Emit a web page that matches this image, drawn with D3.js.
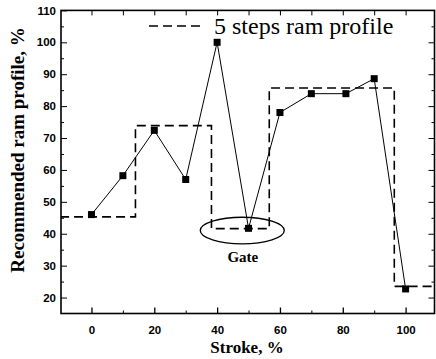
<!DOCTYPE html>
<html><head><meta charset="utf-8">
<script src="https://cdn.jsdelivr.net/npm/d3@7"></script>
<style>body{margin:0;background:#fff}svg{display:block}</style>
</head><body>
<script>
const strokeX = [0, 10, 20, 30, 40, 50, 60, 70, 81, 90, 100];
const ramY = [46, 58.2, 72.4, 57, 100, 41.7, 78, 83.9, 83.9, 88.6, 22.7];
const stepX = [-10, 14, 14, 38.2, 38.2, 56.6, 56.6, 96.4, 96.4, 110];
const stepY = [45.3, 45.3, 73.9, 73.9, 41.6, 41.6, 85.7, 85.7, 23.5, 23.5];
const xTicks = [0, 20, 40, 60, 80, 100];
const yTicks = [20, 30, 40, 50, 60, 70, 80, 90, 100, 110];
const legendLabel = "5 steps ram profile";
const xTitle = "Stroke, %";
const yTitle = "Recommended ram profile, %";
const gateLabel = "Gate";

const W = 436, H = 359;
const svg = d3.select("body").append("svg").attr("width", W).attr("height", H);
const x = d3.scaleLinear().domain([-9.7, 109.2]).range([61, 434.5]);
const y = d3.scaleLinear().domain([15, 110]).range([313.5, 10.4]);

const clip = svg.append("clipPath").attr("id","c").append("rect")
  .attr("x", x.range()[0]).attr("y", y.range()[1])
  .attr("width", x.range()[1]-x.range()[0]).attr("height", y.range()[0]-y.range()[1]);

// step profile
const stepData = stepX.map((d,i)=>[d, stepY[i]]);
svg.append("path").attr("clip-path","url(#c)")
  .attr("d", d3.line().x(d=>x(d[0])).y(d=>y(d[1]))(stepData))
  .attr("fill","none").attr("stroke","#000").attr("stroke-width",1.6)
  .attr("stroke-dasharray","9,5");

// data line
const pts = strokeX.map((d,i)=>[d, ramY[i]]);
svg.append("path").attr("d", d3.line().x(d=>x(d[0])).y(d=>y(d[1]))(pts))
  .attr("fill","none").attr("stroke","#000").attr("stroke-width",1);
svg.selectAll("rect.pt").data(pts).join("rect").attr("class","pt")
  .attr("x", d=>x(d[0])-3.5).attr("y", d=>y(d[1])-3.5)
  .attr("width",7).attr("height",7).attr("fill","#000");

// gate ellipse
svg.append("ellipse").attr("cx", x(48)).attr("cy", y(41.0))
  .attr("rx", 42).attr("ry", 13.3).attr("fill","none").attr("stroke","#000").attr("stroke-width",1.3);
svg.append("text").attr("x", x(48.2)).attr("y", y(31.3)+0.5)
  .attr("text-anchor","middle").attr("font-family","Liberation Serif, Times New Roman, serif")
  .attr("font-weight","bold").attr("font-size",15).text(gateLabel);

// frame
const [x0,x1] = x.range(), [y0,y1] = y.range();
svg.append("rect").attr("x",x0).attr("y",y1).attr("width",x1-x0).attr("height",y0-y1)
  .attr("fill","none").attr("stroke","#000").attr("stroke-width",1.6);

// axes with inward ticks
const xMinor = d3.range(-10, 111, 10).filter(v=>v>x.domain()[0] && v<x.domain()[1] && v%20!==0);
const yMinor = d3.range(15, 111, 10).filter(v=>v>y.domain()[0] && v<y.domain()[1]);
const fontTick = "Liberation Sans, Arial, sans-serif";

const bx = svg.append("g").attr("transform",`translate(0,${y0})`)
  .call(d3.axisBottom(x).tickValues(xTicks).tickSizeInner(-6).tickSizeOuter(0).tickPadding(12));
bx.select(".domain").remove();
bx.selectAll("text").attr("font-family",fontTick).attr("font-weight","bold").attr("font-size",11.5).attr("fill","#000");
bx.selectAll("line").attr("stroke-width",1.3);
svg.append("g").attr("transform",`translate(0,${y0})`)
  .call(d3.axisBottom(x).tickValues(xMinor).tickSizeInner(-3).tickSizeOuter(0).tickFormat(""))
  .call(g=>g.select(".domain").remove());

const tx = svg.append("g").attr("transform",`translate(0,${y1})`)
  .call(d3.axisTop(x).tickValues(xTicks.concat(xMinor)).tickSizeInner(-5).tickSizeOuter(0).tickFormat(""));
tx.select(".domain").remove();

const ly = svg.append("g").attr("transform",`translate(${x0},0)`)
  .call(d3.axisLeft(y).tickValues(yTicks).tickSizeInner(-6).tickSizeOuter(0).tickPadding(5));
ly.select(".domain").remove();
ly.selectAll("text").attr("font-family",fontTick).attr("font-weight","bold").attr("font-size",11.5).attr("fill","#000");
svg.append("g").attr("transform",`translate(${x0},0)`)
  .call(d3.axisLeft(y).tickValues(yMinor).tickSizeInner(-3).tickSizeOuter(0).tickFormat(""))
  .call(g=>g.select(".domain").remove());

svg.append("g").attr("transform",`translate(${x1},0)`)
  .call(d3.axisRight(y).tickValues(yTicks.filter(v=>v<110)).tickSizeInner(-6).tickSizeOuter(0).tickFormat(""))
  .call(g=>g.select(".domain").remove());
svg.append("g").attr("transform",`translate(${x1},0)`)
  .call(d3.axisRight(y).tickValues(yMinor).tickSizeInner(-3).tickSizeOuter(0).tickFormat(""))
  .call(g=>g.select(".domain").remove());

// legend
svg.append("line").attr("x1",149).attr("x2",200).attr("y1",26).attr("y2",26)
  .attr("stroke","#000").attr("stroke-width",1.6).attr("stroke-dasharray","9,5");
svg.append("text").attr("x",214).attr("y",34).attr("font-family","Liberation Serif, Times New Roman, serif")
  .attr("font-size",24).text(legendLabel);

// titles
svg.append("text").attr("x",247).attr("y",353).attr("text-anchor","middle")
  .attr("font-family","Liberation Serif, Times New Roman, serif").attr("font-weight","bold").attr("font-size",17).text(xTitle);
svg.append("text").attr("transform","translate(24,150) rotate(-90)").attr("text-anchor","middle")
  .attr("font-family","Liberation Serif, Times New Roman, serif").attr("font-weight","bold").attr("font-size",19).text(yTitle);
</script>
</body></html>
